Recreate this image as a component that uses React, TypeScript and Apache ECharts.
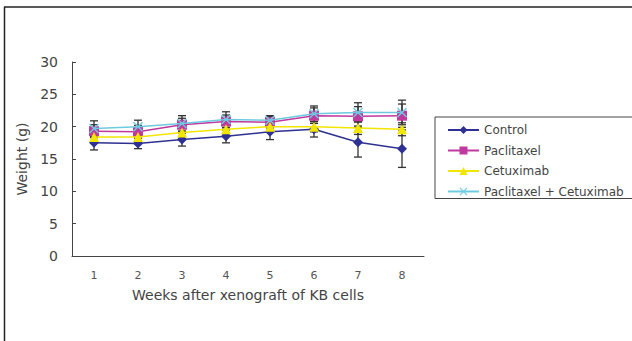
import React, { useEffect, useRef } from "react";
import * as echarts from "echarts";

const weeks = ["1", "2", "3", "4", "5", "6", "7", "8"];
const seriesNames = ["Control", "Paclitaxel", "Cetuximab", "Paclitaxel + Cetuximab"];
const control = [17.5, 17.4, 18.0, 18.5, 19.2, 19.6, 17.6, 16.6];
const controlErr = [1.1, 0.8, 1.0, 1.0, 1.2, 1.2, 2.3, 2.9];
const paclitaxel = [19.3, 19.2, 20.3, 20.8, 20.7, 21.7, 21.6, 21.7];
const paclitaxelErr = [1.0, 1.0, 1.0, 1.0, 0.9, 1.2, 1.5, 1.8];
const cetuximab = [18.4, 18.4, 19.1, 19.6, 20.0, 20.0, 19.8, 19.6];
const cetuximabErr = [0.8, 0.8, 0.9, 0.9, 0.8, 0.8, 1.0, 1.0];
const combo = [19.7, 20.0, 20.5, 21.1, 21.0, 22.0, 22.2, 22.2];
const comboErr = [1.2, 1.0, 1.2, 1.2, 0.7, 1.2, 1.5, 1.9];

const colors = ["#2E3192", "#C0399F", "#F2E600", "#6CCBE0"];
const symbols = [
  "diamond",
  "rect",
  "triangle",
  "path://M0,1 L1,0 L5,4 L9,0 L10,1 L6,5 L10,9 L9,10 L5,6 L1,10 L0,9 L4,5 Z",
];
const symbolSizes = [10, 10, 10, 10];

export default function App() {
  const ref = useRef<HTMLDivElement>(null);
  useEffect(() => {
    if (!ref.current) return;
    const chart = echarts.init(ref.current, undefined, { renderer: "svg" });
    const means = [control, paclitaxel, cetuximab, combo];
    const errs = [controlErr, paclitaxelErr, cetuximabErr, comboErr];

    const errData: number[][] = [];
    means.forEach((m, si) => {
      m.forEach((v, i) => {
        errData.push([i, v - errs[si][i], v + errs[si][i]]);
      });
    });

    const lineSeries = seriesNames.map((name, si) => ({
      name,
      type: "line",
      data: means[si],
      symbol: symbols[si],
      symbolSize: symbolSizes[si],
      color: colors[si],
      lineStyle: { color: colors[si], width: 1.5 },
      itemStyle: { color: colors[si] },
      z: 3 + si,
    }));

    chart.setOption({
      animation: false,
      backgroundColor: "#ffffff",
      textStyle: { fontFamily: "DejaVu Sans, sans-serif" },
      grid: { left: 72, right: 208, top: 62, bottom: 85 },
      legend: {
        orient: "vertical",
        left: 435,
        top: 117,
        padding: [7, 10, 1, 12],
        itemGap: 8.5,
        itemWidth: 31,
        itemHeight: 10,
        borderColor: "#444",
        borderWidth: 1,
        data: seriesNames,
        textStyle: { color: "#444", fontSize: 12 },
      },
      xAxis: {
        type: "category",
        data: weeks,
        boundaryGap: true,
        name: "Weeks after xenograft of KB cells",
        nameLocation: "middle",
        nameGap: 32,
        nameTextStyle: { color: "#444", fontSize: 14 },
        axisLine: { lineStyle: { color: "#444", width: 1 } },
        axisTick: { inside: true, length: 4, lineStyle: { color: "#444" } },
        axisLabel: { color: "#555", fontSize: 11, margin: 14 },
        splitLine: { show: false },
      },
      yAxis: {
        type: "value",
        min: 0,
        max: 30,
        interval: 5,
        name: "Weight (g)",
        nameLocation: "middle",
        nameGap: 34,
        nameTextStyle: { color: "#444", fontSize: 14 },
        axisLine: { show: true, lineStyle: { color: "#444", width: 1 } },
        axisTick: { show: true, inside: true, length: 4, lineStyle: { color: "#444" } },
        axisLabel: { color: "#444", fontSize: 14, margin: 14 },
        splitLine: { show: false },
      },
      series: [
        {
          type: "custom",
          name: "err",
          data: errData,
          z: 2,
          silent: true,
          renderItem: (params: any, api: any) => {
            const x = api.value(0);
            const lo = api.coord([x, api.value(1)]);
            const hi = api.coord([x, api.value(2)]);
            const half = 4;
            const style = { stroke: "#333", lineWidth: 1.3 };
            return {
              type: "group",
              children: [
                { type: "line", shape: { x1: lo[0], y1: lo[1], x2: hi[0], y2: hi[1] }, style },
                { type: "line", shape: { x1: lo[0] - half, y1: lo[1], x2: lo[0] + half, y2: lo[1] }, style },
                { type: "line", shape: { x1: hi[0] - half, y1: hi[1], x2: hi[0] + half, y2: hi[1] }, style },
              ],
            };
          },
        },
        ...lineSeries,
      ],
      graphic: [
        { type: "line", shape: { x1: 4, y1: 7, x2: 632, y2: 7 }, style: { stroke: "#222", lineWidth: 1.5 } },
        { type: "line", shape: { x1: 4.5, y1: 7, x2: 4.5, y2: 341 }, style: { stroke: "#222", lineWidth: 1.5 } },
      ],
    });
    return () => chart.dispose();
  }, []);
  return (
    <div
      ref={ref}
      style={{ position: "fixed", left: 0, top: 0, width: 632, height: 341 }}
    />
  );
}
